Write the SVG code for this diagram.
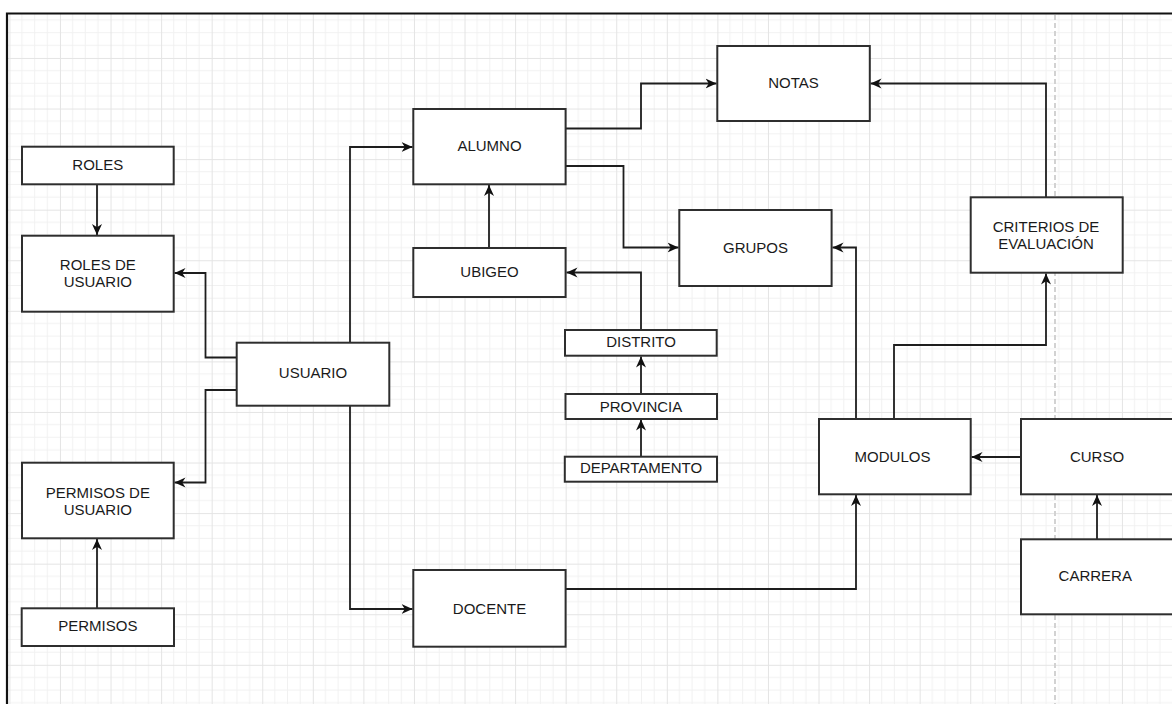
<svg xmlns="http://www.w3.org/2000/svg" width="1172" height="704" viewBox="0 0 1172 704">
<style>
.box{fill:#fff;stroke:#2e2e2e;stroke-width:2}
.lbl{font-family:"Liberation Sans",Arial,sans-serif;font-size:15px;fill:#1a1a1a;text-anchor:middle}
.con{fill:none;stroke:#1e1e1e;stroke-width:1.8;marker-end:url(#arr)}
</style>
<defs>
<pattern id="grid" patternUnits="userSpaceOnUse" x="9.4" y="7.4" width="50.57" height="50.57">
<path d="M12.64,0V50.57M25.28,0V50.57M37.93,0V50.57M0,12.64H50.57M0,25.28H50.57M0,37.93H50.57" stroke="#f1f1f1" stroke-width="1" fill="none"/>
<path d="M0.5,0V50.57M0,0.5H50.57" stroke="#e4e4e4" stroke-width="1" fill="none"/>
</pattern>
<marker id="arr" markerUnits="userSpaceOnUse" markerWidth="13" markerHeight="12" refX="11" refY="6" orient="auto">
<path d="M0,1 L11,6 L0,11 L3.3,6 Z" fill="#111"/>
</marker>
</defs>
<rect x="0" y="0" width="1172" height="704" fill="#fff"/>
<rect x="7" y="13" width="1165" height="691" fill="url(#grid)"/>
<path d="M7,704V13.5H1172" fill="none" stroke="#111" stroke-width="2.2"/>
<line x1="1055" y1="15" x2="1055" y2="704" stroke="#d2d2d2" stroke-width="2" stroke-dasharray="5,3"/>
<g id="connectors">
<path class="con" d="M97,184.5V235"/>
<path class="con" d="M237,357.5H205.5V273H174.5"/>
<path class="con" d="M237,390H205.5V482.5H174.5"/>
<path class="con" d="M97,608.5V539"/>
<path class="con" d="M350,343V147H412.5"/>
<path class="con" d="M350,406V609H412.5"/>
<path class="con" d="M489,248V185"/>
<path class="con" d="M565.5,128.5H641V83.5H716.5"/>
<path class="con" d="M565.5,166H623.5V247.5H678.5"/>
<path class="con" d="M641,330V272.5H566.5"/>
<path class="con" d="M641,394V356.5"/>
<path class="con" d="M641,457V419.5"/>
<path class="con" d="M565.5,589H856V495"/>
<path class="con" d="M856,419V247.5H832.5"/>
<path class="con" d="M894,419V345H1046V273.5"/>
<path class="con" d="M1046,197V83.5H870.5"/>
<path class="con" d="M1021,457H971.5"/>
<path class="con" d="M1097,539.5V495"/>
</g>
<g id="notas"><rect class="box" x="717.3" y="46" width="152.5" height="75"/><text class="lbl" x="793.5" y="88">NOTAS</text></g>
<g id="alumno"><rect class="box" x="413.3" y="109" width="152.3" height="75.3"/><text class="lbl" x="489.5" y="151">ALUMNO</text></g>
<g id="roles"><rect class="box" x="22" y="146.7" width="151.7" height="37.6"/><text class="lbl" x="97.8" y="170">ROLES</text></g>
<g id="roles-usuario"><rect class="box" x="22" y="235.7" width="151.7" height="76"/><text class="lbl" x="97.8" y="269.5">ROLES DE</text><text class="lbl" x="97.8" y="287">USUARIO</text></g>
<g id="grupos"><rect class="box" x="679.3" y="210" width="152.3" height="76"/><text class="lbl" x="755.5" y="252.5">GRUPOS</text></g>
<g id="criterios"><rect class="box" x="970.7" y="197.3" width="152" height="75.4"/><text class="lbl" x="1046" y="231.5">CRITERIOS DE</text><text class="lbl" x="1046" y="249">EVALUACIÓN</text></g>
<g id="ubigeo"><rect class="box" x="413.3" y="248" width="152.3" height="49"/><text class="lbl" x="489.5" y="276.5">UBIGEO</text></g>
<g id="usuario"><rect class="box" x="236.7" y="342.7" width="152.6" height="63"/><text class="lbl" x="313" y="378">USUARIO</text></g>
<g id="distrito"><rect class="box" x="565" y="330" width="151.7" height="25.7"/><text class="lbl" x="641" y="347">DISTRITO</text></g>
<g id="provincia"><rect class="box" x="565.5" y="394" width="151.5" height="25"/><text class="lbl" x="641" y="411.5">PROVINCIA</text></g>
<g id="departamento"><rect class="box" x="564.8" y="456.7" width="152.2" height="25"/><text class="lbl" x="641" y="473">DEPARTAMENTO</text></g>
<g id="modulos"><rect class="box" x="819" y="419" width="151.7" height="75.3"/><text class="lbl" x="892.5" y="462">MODULOS</text></g>
<g id="curso"><rect class="box" x="1021" y="419" width="153" height="75.3"/><text class="lbl" x="1097" y="462">CURSO</text></g>
<g id="carrera"><rect class="box" x="1021" y="539.3" width="153" height="75"/><text class="lbl" x="1095.3" y="580.5">CARRERA</text></g>
<g id="permisos-usuario"><rect class="box" x="22" y="462.7" width="151.7" height="75.6"/><text class="lbl" x="97.8" y="498">PERMISOS DE</text><text class="lbl" x="97.8" y="515">USUARIO</text></g>
<g id="permisos"><rect class="box" x="21.7" y="608.3" width="152.3" height="37.7"/><text class="lbl" x="97.8" y="630.5">PERMISOS</text></g>
<g id="docente"><rect class="box" x="413.3" y="570" width="152.3" height="76.7"/><text class="lbl" x="489.5" y="614">DOCENTE</text></g>
</svg>
